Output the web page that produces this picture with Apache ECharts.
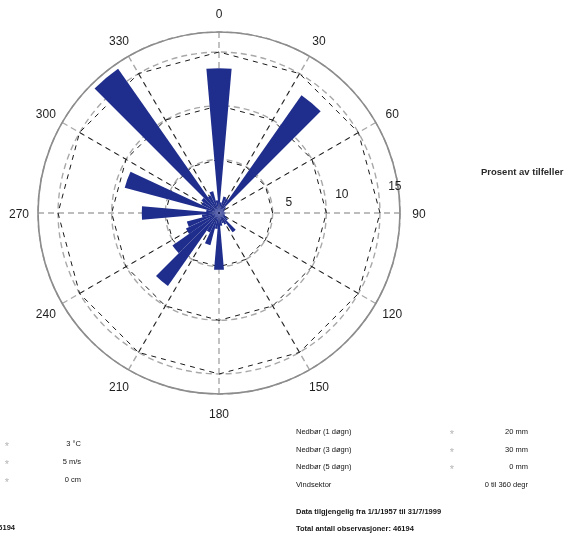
<!DOCTYPE html>
<html>
<head>
<meta charset="utf-8">
<script src="https://cdn.jsdelivr.net/npm/echarts@6/dist/echarts.min.js"></script>
<style>
  html, body { margin: 0; padding: 0; background: #fff; }
  #chart { width: 574px; height: 535px; }
</style>
</head>
<body>
<div id="chart"></div>
<script>
// Wind rose: share of observations (percent) per 10-degree direction sector
const sectors = ['0','10','20','30','40','50','60','70','80','90','100','110',
                 '120','130','140','150','160','170','180','190','200','210','220','230',
                 '240','250','260','270','280','290','300','310','320','330','340','350'];
const percent = [13.5, 1.0, 1.6, 1.5, 13.4, 0.8, 0.6, 0.5, 0.5, 0.6, 0.5, 0.6,
                 0.8, 1.0, 2.2, 1.2, 1.0, 1.2, 5.3, 1.5, 3.1, 2.0, 8.3, 5.3,
                 3.4, 3.1, 1.6, 7.2, 1.2, 9.1, 1.8, 2.0, 16.4, 1.8, 2.1, 1.2];
// direction spokes / labels and ring labels
const spokeAngles = [0, 30, 60, 90, 120, 150, 180, 210, 240, 270, 300, 330];
const ringValues = [5, 10, 15];

// station info block below the rose
const leftValues = ['3 °C', '5 m/s', '0 cm'];
const rightNames = ['Nedbør (1 døgn)', 'Nedbør (3 døgn)', 'Nedbør (5 døgn)', 'Vindsektor'];
const rightValues = ['20 mm', '30 mm', '0 mm', '0 til 360 degr'];
const footerLines = ['Data tilgjengelig fra 1/1/1957 til 31/7/1999', 'Total antall observasjoner: 46194'];
const totalCount = '46194';
const unitTitle = 'Prosent av tilfeller';

const CX = 219, CY = 213, R = 181, RMAX = 16.87, RING_R = 161, LABEL_R = 200;
const FONT = '"Liberation Sans", Arial, sans-serif';
const GRAY_DASH = { color: '#a8a8a8', type: [6, 4], width: 1.4 };
const BLACK_DASH = { color: '#1a1a1a', type: [5, 5], width: 1 };
const hiddenAxis = {
  axisLine: { show: false }, axisTick: { show: false },
  axisLabel: { show: false }, splitLine: { show: false }
};

const chart = echarts.init(document.getElementById('chart'), null, { renderer: 'canvas' });

const graphics = [];
function addText(text, x, y, opts) {
  graphics.push({
    type: 'text', x: x, y: y, silent: true,
    style: Object.assign({
      text: text, fill: '#151515', fontFamily: FONT, fontSize: 7.5,
      align: 'left', verticalAlign: 'middle'
    }, opts || {})
  });
}
const STAR = { fill: '#b5b5b5', fontSize: 11, align: 'center' };
addText(unitTitle, 481, 172, { fontSize: 9.5, fontWeight: 'bold', fill: '#2a2a2a' });
leftValues.forEach((t, i) => {
  addText('*', 7, 447 + i * 18, STAR);
  addText(t, 81, 444 + i * 18, { align: 'right' });
});
rightNames.forEach((t, i) => addText(t, 296, 432 + i * 17.7));
rightValues.forEach((t, i) => {
  if (i < 3) addText('*', 452, 435 + i * 17.7, STAR);
  addText(t, 528, 432 + i * 17.7, { align: 'right' });
});
footerLines.forEach((t, i) => addText(t, 296, 511.5 + i * 17, { fontWeight: 'bold' }));
addText(totalCount, 15, 527.5, { align: 'right', fontWeight: 'bold' });

chart.setOption({
  animation: false,
  backgroundColor: '#ffffff',
  polar: [
    { center: [CX, CY], radius: R },       // sector bars
    { center: [CX, CY], radius: R },       // gray circles, spokes, outer ring
    { center: [CX, CY], radius: RING_R },  // black spokes 30/120/210/300
    { center: [CX, CY], radius: RING_R },  // black spokes 60/150/240/330
    { center: [CX, CY], radius: R },       // ring value labels
    { center: [CX, CY + 1.5], radius: LABEL_R }  // direction labels, centred on a ring outside the rose
  ],
  angleAxis: [
    Object.assign({ polarIndex: 0, type: 'category', data: sectors, startAngle: 95,
      clockwise: true, boundaryGap: true }, hiddenAxis),
    {
      polarIndex: 1, type: 'value', min: 0, max: 360, interval: 30,
      startAngle: 90, clockwise: true,
      axisLine: { show: true, lineStyle: { color: '#8c8c8c', width: 1.6 } },
      axisTick: { show: false },
      axisLabel: { show: false },
      splitLine: { show: true, lineStyle: GRAY_DASH }
    },
    Object.assign({ polarIndex: 2, type: 'value', min: 0, max: 360, interval: 90,
      startAngle: 60, clockwise: true }, hiddenAxis,
      { splitLine: { show: true, lineStyle: BLACK_DASH } }),
    Object.assign({ polarIndex: 3, type: 'value', min: 0, max: 360, interval: 90,
      startAngle: 30, clockwise: true }, hiddenAxis,
      { splitLine: { show: true, lineStyle: BLACK_DASH } }),
    Object.assign({ polarIndex: 4, type: 'value', min: 0, max: 360,
      startAngle: 8.5, clockwise: true }, hiddenAxis),
    Object.assign({ polarIndex: 5, type: 'value', min: 0, max: 360,
      startAngle: 90, clockwise: true }, hiddenAxis)
  ],
  radiusAxis: [
    Object.assign({ polarIndex: 0, type: 'value', min: 0, max: RMAX }, hiddenAxis),
    Object.assign({ polarIndex: 1, type: 'value', min: 0, max: RMAX, interval: 5 }, hiddenAxis,
      { splitLine: { show: true, lineStyle: GRAY_DASH } }),
    Object.assign({ polarIndex: 2, type: 'value', min: 0, max: 15 }, hiddenAxis),
    Object.assign({ polarIndex: 3, type: 'value', min: 0, max: 15 }, hiddenAxis),
    Object.assign({ polarIndex: 4, type: 'value', min: -1.6, max: 15.3 }, hiddenAxis, {
      axisLabel: {
        show: true, customValues: ringValues, margin: 0,
        color: '#1e1e1e', fontSize: 12, fontFamily: FONT,
        align: 'center', verticalAlign: 'middle'
      }
    }),
    Object.assign({ polarIndex: 5, type: 'value', min: 0, max: 1 }, hiddenAxis)
  ],
  radar: {
    center: [CX, CY], radius: RING_R, startAngle: 90, shape: 'polygon', splitNumber: 3,
    indicator: spokeAngles.map(a => ({ name: String(a), max: 15 })),
    axisName: { show: false },
    axisLine: { show: false },
    axisTick: { show: false },
    axisLabel: { show: false },
    splitArea: { show: false },
    splitLine: { show: true, lineStyle: BLACK_DASH }
  },
  series: [
    {
      type: 'bar', coordinateSystem: 'polar', polarIndex: 0,
      data: percent, barCategoryGap: '0%', barGap: '0%',
      itemStyle: { color: '#1f2d8c' },
      z: 5, silent: true
    },
    {
      // compass direction labels around the rose
      type: 'scatter', coordinateSystem: 'polar', polarIndex: 5,
      data: spokeAngles.map(a => [1, a]),
      symbolSize: 0, silent: true,
      itemStyle: { opacity: 1 },
      label: {
        show: true, position: 'inside', color: '#1e1e1e', opacity: 1,
        fontSize: 12, fontFamily: FONT,
        formatter: p => String(p.value[1])
      }
    }
  ],
  graphic: graphics
});
</script>
</body>
</html>
